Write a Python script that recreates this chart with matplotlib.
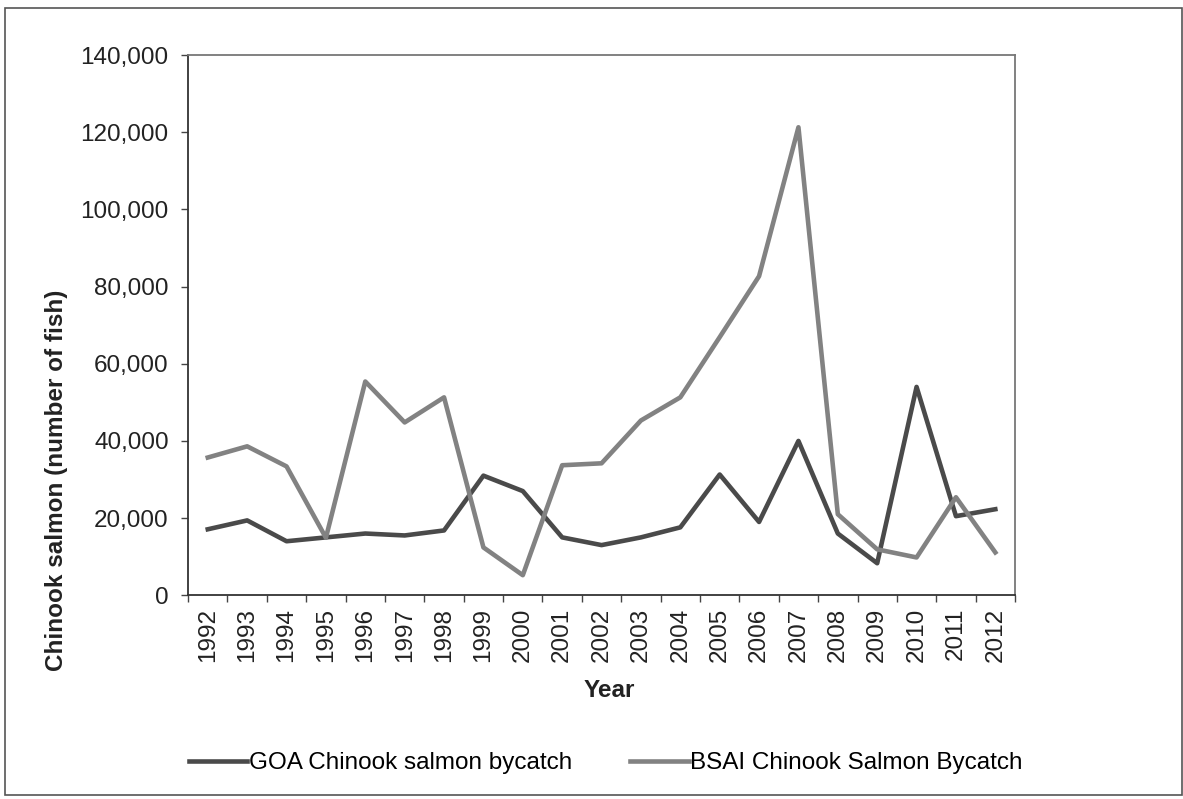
import numpy as np
import matplotlib.pyplot as plt
from matplotlib.patches import Rectangle

plt.rcParams['font.family'] = ['Liberation Sans', 'DejaVu Sans']

# ----------------------------------------------------------------------
# Data
# ----------------------------------------------------------------------
years = list(range(1992, 2013))
goa_bycatch = [17100, 19400, 14000, 15000, 16000, 15500, 16800, 31000, 27000, 15000,
               13000, 15000, 17600, 31300, 19000, 40000, 16000, 8300, 54000, 20500, 22300]
bsai_bycatch = [35700, 38600, 33400, 14900, 55400, 44800, 51300, 12400, 5200, 33700,
                34200, 45300, 51300, 66900, 82700, 121300, 21000, 11900, 9800, 25400, 11100]

GOA_COLOR = "#4a4a4a"
BSAI_COLOR = "#828282"
FS = 17.5

fig = plt.figure(figsize=(11.83, 7.99), dpi=100)
ax = fig.add_axes([0.159, 0.255, 0.699, 0.676])

x = np.arange(len(years))
ax.plot(x, goa_bycatch, color=GOA_COLOR, lw=3.3, label="GOA Chinook salmon bycatch")
ax.plot(x, bsai_bycatch, color=BSAI_COLOR, lw=3.3, label="BSAI Chinook Salmon Bycatch")

ax.set_xlim(-0.5, len(years) - 0.5)
ax.set_ylim(0, 140000)
ax.set_yticks(np.arange(0, 140001, 20000))
ax.set_yticklabels([f"{v:,}" for v in range(0, 140001, 20000)], fontsize=FS, color="#222222")

ax.set_xticks(x)
ax.set_xticklabels([str(y) for y in years], rotation=90, fontsize=FS, color="#222222")
ax.set_xticks(np.arange(-0.5, len(years)), minor=True)
ax.tick_params(axis="x", which="major", length=0, pad=9)
ax.tick_params(axis="x", which="minor", length=5, width=1, color="#444444")
ax.tick_params(axis="y", length=5, width=1, color="#444444", pad=9)

for side in ["left", "bottom"]:
    ax.spines[side].set_color("#333333")
    ax.spines[side].set_linewidth(1.3)
for side in ["top", "right"]:
    ax.spines[side].set_color("#777777")
    ax.spines[side].set_linewidth(1.3)

ax.set_xlabel("Year", fontsize=FS, fontweight="bold", color="#222222")
ax.xaxis.set_label_coords(0.509, -0.155)
ax.set_ylabel("Chinook salmon (number of fish)", fontsize=FS, fontweight="bold", color="#222222")
ax.yaxis.set_label_coords(-0.145, 0.213)

fig.legend(loc="center", bbox_to_anchor=(0.512, 0.045), ncol=2, frameon=False,
           fontsize=FS, handlelength=2.4, handletextpad=0.05, columnspacing=2.4)

# outer frame of the figure
fig.patches.append(Rectangle((0.004, 0.005), 0.995, 0.985, transform=fig.transFigure,
                             fill=False, edgecolor="#555555", lw=1.2))

fig.savefig("out.png", dpi=100)
